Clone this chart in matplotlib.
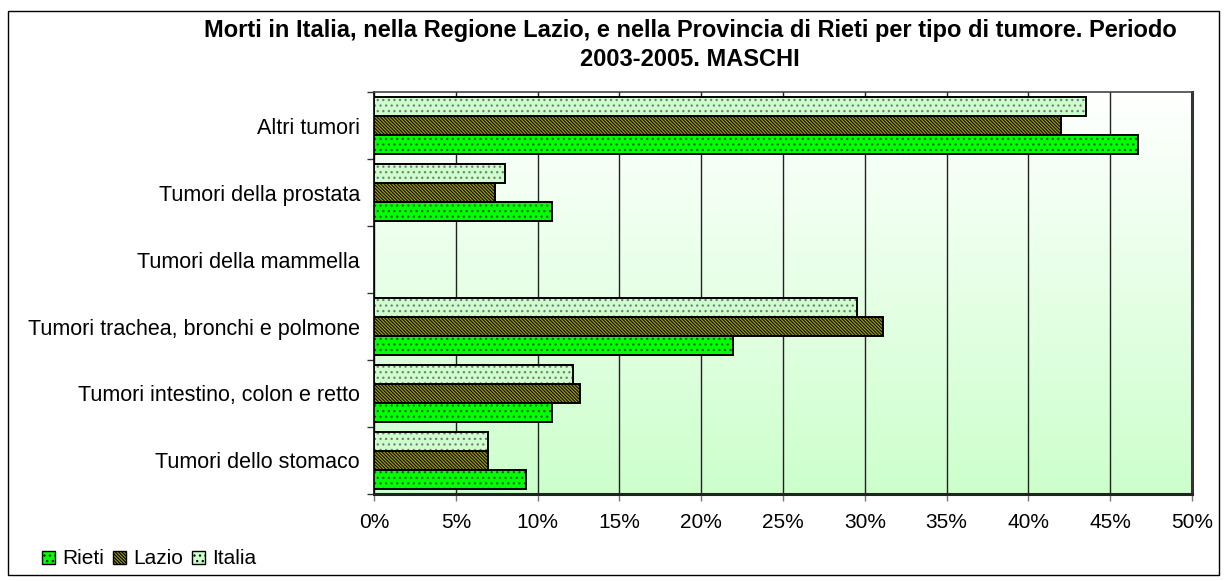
import numpy as np
import matplotlib
matplotlib.use("Agg")
import matplotlib.pyplot as plt
from matplotlib.patches import Rectangle
from matplotlib.ticker import PercentFormatter, MultipleLocator, FixedLocator

plt.rcParams['font.family'] = ['Liberation Sans', 'DejaVu Sans']
plt.rcParams['hatch.linewidth'] = 0.9

title = ("Morti in Italia, nella Regione Lazio, e nella Provincia di Rieti per tipo di tumore. Periodo\n"
         "2003-2005. MASCHI")

# bottom to top
categories = ["Tumori dello stomaco", "Tumori intestino, colon e retto",
              "Tumori trachea, bronchi e polmone", "Tumori della mammella",
              "Tumori della prostata", "Altri tumori"]
rieti = [9.3, 10.9, 21.95, 0.0, 10.9, 46.7]
lazio = [6.97, 12.58, 31.1, 0.0, 7.4, 42.0]
italia = [6.97, 12.16, 29.5, 0.0, 8.03, 43.55]
series_names = ["Rieti", "Lazio", "Italia"]

W, H = 1227, 581
fig = plt.figure(figsize=(W / 100, H / 100), dpi=100)
fig.patch.set_facecolor('white')
fig.add_artist(Rectangle((8 / W, 1 - 575 / H), (1219 - 8) / W, (575 - 10.5) / H,
                         transform=fig.transFigure, fill=False, edgecolor='black', lw=1.0))

ax = fig.add_axes([374 / W, 1 - 494 / H, (1192 - 374) / W, (494 - 92) / H])

# gradient background (white top -> light green bottom)
grad = np.linspace(0, 1, 256).reshape(-1, 1)
c_top = np.array([1.0, 1.0, 1.0])
c_bot = np.array([0xCC, 0xFF, 0xCC]) / 255.0
img = c_top[None, None, :] * (1 - grad[:, :, None]) + c_bot[None, None, :] * grad[:, :, None]
ax.imshow(img, extent=[0, 1, 0, 1], transform=ax.transAxes, aspect='auto', zorder=0)

y = np.arange(len(categories))
h = 0.285
styles = [
    dict(vals=rieti, off=-h, face='#00FF00', hatchc='#006600', hatch='...'),
    dict(vals=lazio, off=0.0, face='#A4A400', hatchc='#111100', hatch='\\' * 10),
    dict(vals=italia, off=h, face='#CCFFCC', hatchc='#7A7A7A', hatch='...'),
]
for s in styles:
    ax.barh(y + s['off'], s['vals'], height=h, color=s['face'], edgecolor=s['hatchc'],
            hatch=s['hatch'], linewidth=0, zorder=3)
    ax.barh(y + s['off'], s['vals'], height=h, fill=False, edgecolor='black',
            linewidth=1.4, zorder=4)

ax.set_xlim(0, 50)
ax.set_ylim(-0.5, len(categories) - 0.5)
ax.xaxis.set_major_locator(MultipleLocator(5))
ax.xaxis.set_major_formatter(PercentFormatter(decimals=0))
ax.grid(axis='x', color='#222222', lw=1.0, zorder=1)
ax.set_axisbelow(True)

ax.set_yticks(y)
ax.set_yticklabels(categories)
ax.yaxis.set_minor_locator(FixedLocator(np.arange(-0.5, len(categories), 1.0)))
ax.tick_params(axis='y', which='major', length=0, pad=10, labelsize=15.5)
ax.tick_params(axis='y', which='minor', length=5, width=1.0, color='#333333')
ax.tick_params(axis='x', length=5, width=1.0, color='#777777', pad=9, labelsize=15)

ax.spines['top'].set_color('#444444')
ax.spines['top'].set_linewidth(1.2)
ax.spines['right'].set_linewidth(2.2)
ax.spines['right'].set_color('#333333')
ax.spines['left'].set_color('black')
ax.spines['left'].set_linewidth(1.2)
ax.spines['bottom'].set_color('#222222')
ax.spines['bottom'].set_linewidth(2.2)

fig.text(690 / W, 1 - 45 / H, title, ha='center', va='center', fontsize=17,
         fontweight='bold', linespacing=1.3)

# legend
handles = [Rectangle((0, 0), 1, 1, facecolor=s['face'], edgecolor='black', hatch=s['hatch'], lw=1.0)
           for s in styles]
leg = fig.legend(handles, series_names, loc='center left', bbox_to_anchor=(42 / W, 1 - 559 / H),
                 frameon=False, fontsize=15, handlelength=0.6, handleheight=0.6,
                 handletextpad=0.35, columnspacing=0.45, ncol=3, borderaxespad=0, borderpad=0)

fig.savefig("out.png", dpi=100)
